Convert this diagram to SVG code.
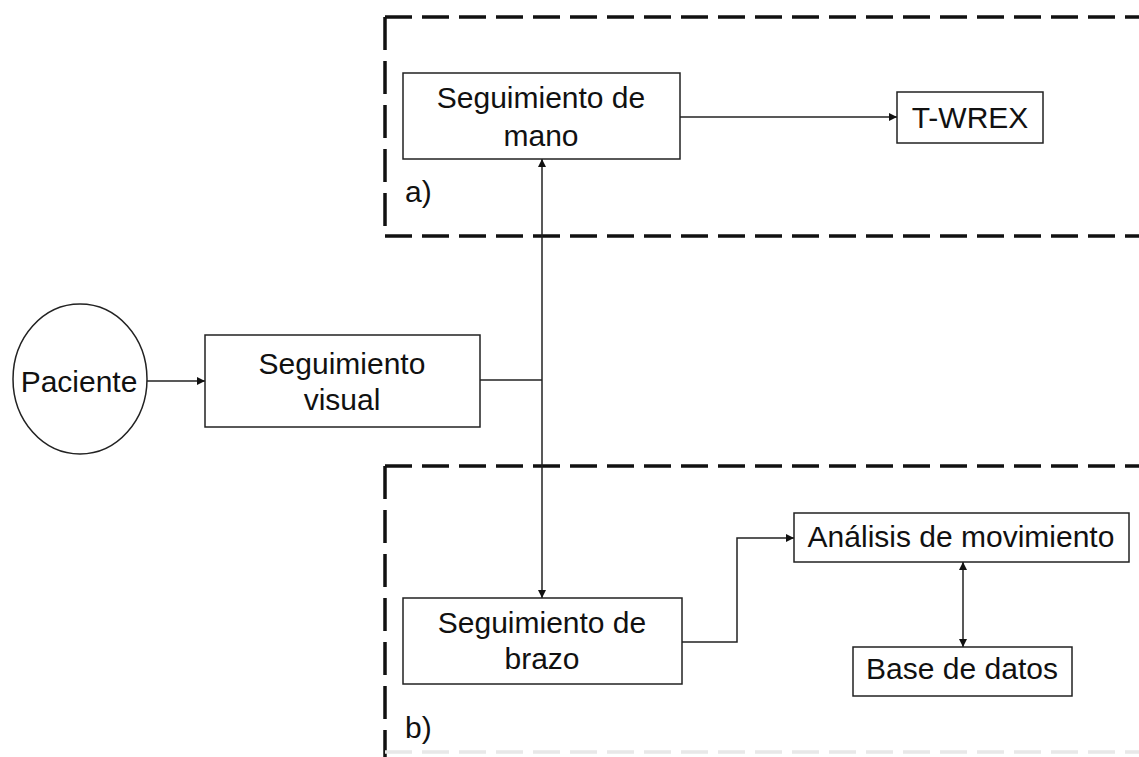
<svg xmlns="http://www.w3.org/2000/svg" width="1139" height="757" viewBox="0 0 1139 757">
  <style>
    .box { fill: #ffffff; stroke: #222222; stroke-width: 1.5; }
    .lbl { font-family: "Liberation Sans", Arial, sans-serif; font-size: 30px; fill: #111111; text-anchor: middle; }
    .tag { font-family: "Liberation Sans", Arial, sans-serif; font-size: 30px; fill: #111111; }
    .edge { fill: none; stroke: #222222; stroke-width: 1.5; }
    .group { fill: none; stroke: #111111; stroke-width: 3.5; stroke-dasharray: 27 10; }
    .group-v { fill: none; stroke: #111111; stroke-width: 3.5; stroke-dasharray: 33 11; }
  </style>
  <defs>
    <marker id="arrow" viewBox="0 0 10 10" refX="10" refY="5" markerWidth="9" markerHeight="8" markerUnits="userSpaceOnUse" orient="auto-start-reverse">
      <path d="M0,0 L10,5 L0,10 z" fill="#111111"/>
    </marker>
  </defs>
  <rect width="1139" height="757" fill="#ffffff"/>

  <!-- dashed group frames -->
  <g id="group-a">
    <line class="group" x1="385" y1="17" x2="1139" y2="17"/>
    <line class="group-v" x1="385" y1="17" x2="385" y2="236"/>
    <line class="group" x1="385" y1="236" x2="1139" y2="236"/>
    <text class="tag" x="405" y="202">a)</text>
  </g>
  <g id="group-b">
    <line class="group" x1="385" y1="466" x2="1139" y2="466"/>
    <line class="group-v" x1="385" y1="466" x2="385" y2="757"/>
    <line class="group" x1="385" y1="752" x2="1139" y2="752" style="stroke:#e8e8e8"/>
    <text class="tag" x="405" y="738">b)</text>
  </g>

  <!-- connectors -->
  <g id="connectors">
    <line class="edge" x1="147" y1="381" x2="205" y2="381" marker-end="url(#arrow)"/>
    <line class="edge" x1="480" y1="380" x2="542" y2="380"/>
    <line class="edge" x1="542" y1="380" x2="542" y2="159" marker-end="url(#arrow)"/>
    <line class="edge" x1="542" y1="380" x2="542" y2="598" marker-end="url(#arrow)"/>
    <line class="edge" x1="680" y1="117" x2="897" y2="117" marker-end="url(#arrow)"/>
    <path class="edge" d="M682,642 H737 V538 H794" marker-end="url(#arrow)"/>
    <line class="edge" x1="963" y1="562" x2="963" y2="647" marker-start="url(#arrow)" marker-end="url(#arrow)"/>
  </g>

  <!-- nodes -->
  <g id="paciente">
    <ellipse class="box" cx="80" cy="379" rx="67" ry="75"/>
    <text class="lbl" x="79" y="392">Paciente</text>
  </g>
  <g id="seguimiento-visual">
    <rect class="box" x="205" y="335" width="275" height="92"/>
    <text class="lbl" x="342" y="374">Seguimiento</text>
    <text class="lbl" x="342" y="410">visual</text>
  </g>
  <g id="seguimiento-mano">
    <rect class="box" x="403" y="73" width="277" height="86"/>
    <text class="lbl" x="541" y="108">Seguimiento de</text>
    <text class="lbl" x="541" y="146">mano</text>
  </g>
  <g id="t-wrex">
    <rect class="box" x="897" y="92" width="146" height="51"/>
    <text class="lbl" x="970" y="128">T-WREX</text>
  </g>
  <g id="seguimiento-brazo">
    <rect class="box" x="403" y="598" width="279" height="86"/>
    <text class="lbl" x="542" y="633">Seguimiento de</text>
    <text class="lbl" x="542" y="669">brazo</text>
  </g>
  <g id="analisis-movimiento">
    <rect class="box" x="794" y="513" width="335" height="49"/>
    <text class="lbl" x="961" y="547">Análisis de movimiento</text>
  </g>
  <g id="base-datos">
    <rect class="box" x="853" y="647" width="219" height="49"/>
    <text class="lbl" x="962" y="679">Base de datos</text>
  </g>
</svg>
